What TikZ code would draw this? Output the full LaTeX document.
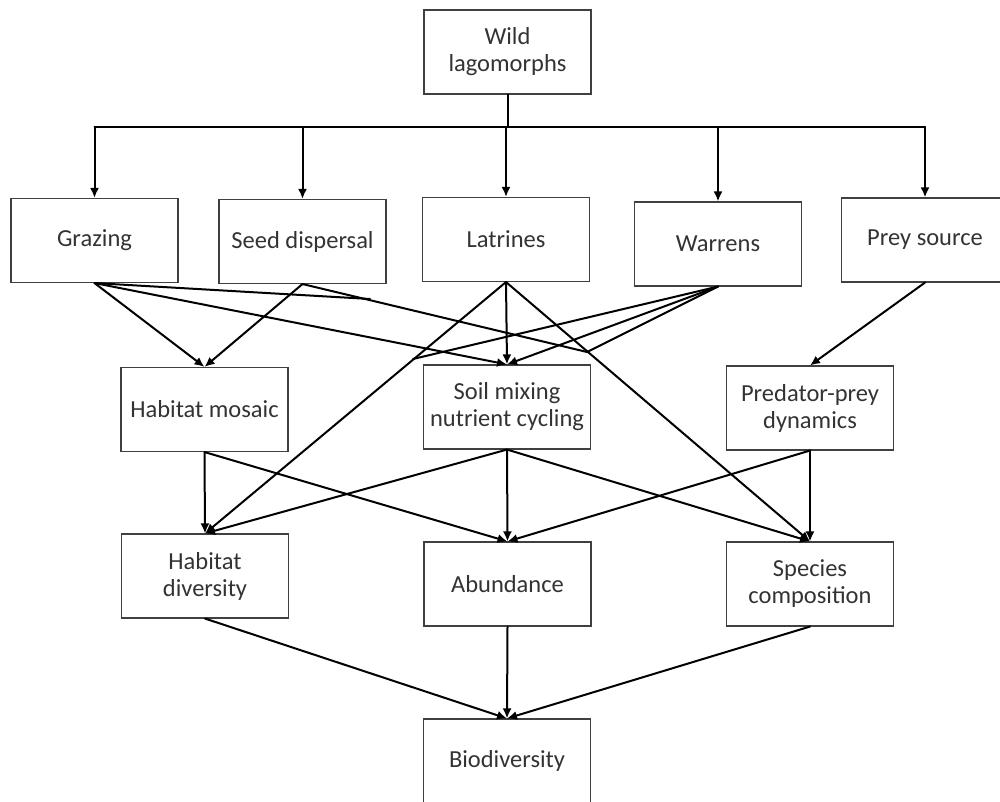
\documentclass[tikz,border=0pt]{standalone}
\usepackage{fontspec}
\setmainfont{Carlito}
\usetikzlibrary{arrows.meta}

\begin{document}
\begin{tikzpicture}[x=1pt, y=-1pt,
    box/.style={rectangle, draw=black!75, line width=1.1pt, minimum width=167pt,
      minimum height=84pt, inner sep=2pt, align=center, text=black!80,
      font=\fontsize{24.5}{27}\selectfont},
    link/.style={line width=2pt, line cap=round},
    arr/.style={link, -{Latex[length=10pt, width=9pt]}}]
    \clip (0, 0) rectangle (1000, 802);

    \node[box] (wild) at (507.5, 52) {Wild\\lagomorphs};

    \node[box] (graz) at (94.5, 240.5) {Grazing};
    \node[box] (seed) at (302.5, 241.5) {Seed dispersal};
    \node[box] (latr) at (506, 239.5) {Latrines};
    \node[box] (warr) at (718, 244) {Warrens};
    \node[box] (prey) at (925, 240) {Prey source};

    \node[box] (mosaic) at (204.5, 409.5) {Habitat mosaic};
    \node[box] (soil) at (507, 407) {Soil mixing\\nutrient cycling};
    \node[box] (pred) at (810, 408) {Predator-prey\\dynamics};

    \node[box] (hdiv) at (205, 576) {Habitat\\diversity};
    \node[box] (abun) at (507.5, 584) {Abundance};
    \node[box] (spec) at (810, 584) {Species\\composition};

    \node[box] (biod) at (507, 761) {Biodiversity};

    % top bar
    \coordinate (bar) at (0, 127);
    \draw[link] (wild.south) -- (wild.south |- bar);
    \draw[link] (graz.north |- bar) -- (prey.north |- bar);
    \foreach \n in {graz, seed, latr, warr, prey}
        \draw[arr] (\n.north |- bar) -- (\n.north);

    % loose ends
    \coordinate (gend) at (370, 299);
    \coordinate (send) at (587, 352);
    \coordinate (wend) at (413, 359);

    % second row
    \draw[arr] (graz.south) -- (mosaic.north);
    \draw[link] (graz.south) -- (gend);
    \draw[arr] (graz.south) -- (soil.north);
    \draw[arr] (seed.south) -- (mosaic.north);
    \draw[link] (seed.south) -- (send);
    \draw[arr] (latr.south) -- (soil.north);
    \draw[arr] (latr.south) -- (hdiv.north);
    \draw[arr] (latr.south) -- (spec.north);
    \draw[link] (warr.south) -- (wend);
    \draw[arr] (warr.south) -- (soil.north);
    \draw[link] (warr.south) -- (send);
    \draw[arr] (prey.south) -- (pred.north);

    % third row
    \draw[arr] (mosaic.south) -- (hdiv.north);
    \draw[arr] (mosaic.south) -- (abun.north);
    \draw[arr] (soil.south) -- (hdiv.north);
    \draw[arr] (soil.south) -- (abun.north);
    \draw[arr] (soil.south) -- (spec.north);
    \draw[arr] (pred.south) -- (abun.north);
    \draw[arr] (pred.south) -- (spec.north);

    % to biodiversity
    \draw[arr] (hdiv.south) -- (biod.north);
    \draw[arr] (abun.south) -- (biod.north);
    \draw[arr] (spec.south) -- (biod.north);
\end{tikzpicture}
\end{document}
